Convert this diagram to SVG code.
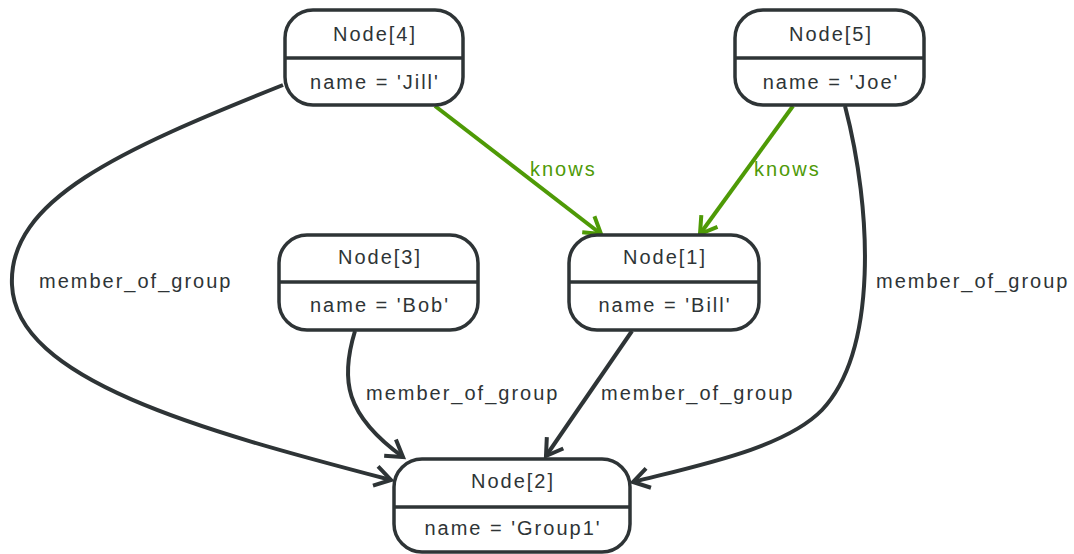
<svg xmlns="http://www.w3.org/2000/svg" width="1074" height="554" viewBox="0 0 1074 554">
<style>
.box{fill:#fff;stroke:#2e3436;stroke-width:3.5}
.div{stroke:#2e3436;stroke-width:3.5}
.t{font-family:"Liberation Sans",Arial,sans-serif;font-size:20px;letter-spacing:2px;fill:#2e3436}
.c{text-anchor:middle}
.e{fill:none;stroke:#2e3436;stroke-width:4}
.k{fill:none;stroke:#4e9a06;stroke-width:4}
.kl{fill:#4e9a06}
</style>
<defs>
<marker id="ad" markerUnits="userSpaceOnUse" markerWidth="34" markerHeight="34" viewBox="-22 -17 34 34" refX="0" refY="0" orient="auto">
<path d="M-16,-10 L0,0 L-16,10" fill="none" stroke="#2e3436" stroke-width="4"/>
</marker>
<marker id="ag" markerUnits="userSpaceOnUse" markerWidth="34" markerHeight="34" viewBox="-22 -17 34 34" refX="0" refY="0" orient="auto">
<path d="M-16,-10 L0,0 L-16,10" fill="none" stroke="#4e9a06" stroke-width="4"/>
</marker>
</defs>
<g id="connectors">
<path class="e" d="M283,85 C120,150 8,200 12,285 C16,380 200,430 391,480" marker-end="url(#ad)"/>
<path class="e" d="M355,331 C340,380 345,415 403,457" marker-end="url(#ad)"/>
<path class="e" d="M632,331 L546,456" marker-end="url(#ad)"/>
<path class="e" d="M845,106 C872,210 878,350 822,410 C785,448 700,465 633,482" marker-end="url(#ad)"/>
<path class="k" d="M435,106 L601,234" marker-end="url(#ag)"/>
<path class="k" d="M793,106 L700,234" marker-end="url(#ag)"/>
<text class="t kl" x="530" y="176">knows</text>
<text class="t kl" x="754" y="176">knows</text>
<text class="t" x="39" y="288">member_of_group</text>
<text class="t" x="876" y="288">member_of_group</text>
<text class="t" x="366" y="400">member_of_group</text>
<text class="t" x="601" y="400">member_of_group</text>
</g>
<g id="node4">
<rect class="box" x="285" y="10" width="178" height="95" rx="28"/>
<line class="div" x1="285" y1="58" x2="463" y2="58"/>
<text class="t c" x="375" y="41">Node[4]</text>
<text class="t c" x="375" y="89">name = 'Jill'</text>
</g>
<g id="node5">
<rect class="box" x="735" y="10" width="189" height="95" rx="28"/>
<line class="div" x1="735" y1="58" x2="924" y2="58"/>
<text class="t c" x="831" y="41">Node[5]</text>
<text class="t c" x="831" y="89">name = 'Joe'</text>
</g>
<g id="node3">
<rect class="box" x="279" y="235" width="199" height="95" rx="28"/>
<line class="div" x1="279" y1="282" x2="478" y2="282"/>
<text class="t c" x="380" y="264">Node[3]</text>
<text class="t c" x="380" y="312">name = 'Bob'</text>
</g>
<g id="node1">
<rect class="box" x="569" y="235" width="190" height="95" rx="28"/>
<line class="div" x1="569" y1="282" x2="759" y2="282"/>
<text class="t c" x="665" y="264">Node[1]</text>
<text class="t c" x="665" y="312">name = 'Bill'</text>
</g>
<g id="node2">
<rect class="box" x="394" y="459" width="236" height="93" rx="28"/>
<line class="div" x1="394" y1="507" x2="630" y2="507"/>
<text class="t c" x="513" y="488">Node[2]</text>
<text class="t c" x="513" y="535">name = 'Group1'</text>
</g>
</svg>
